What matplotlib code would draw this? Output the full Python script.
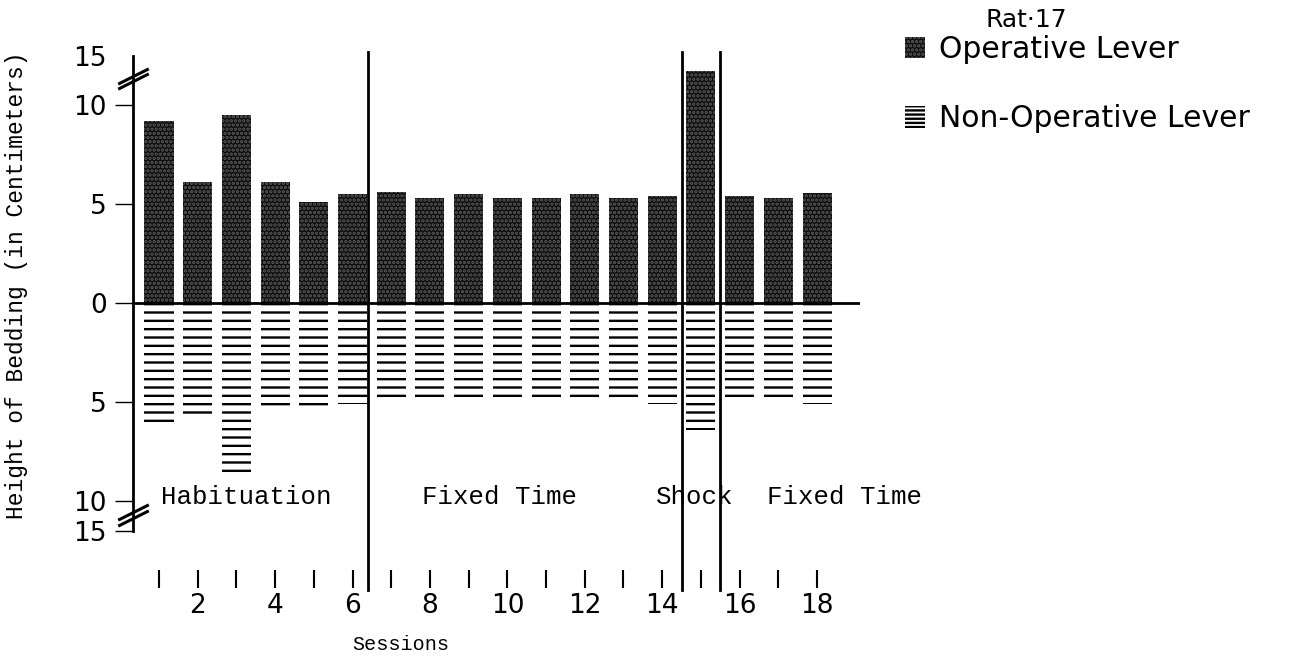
import numpy as np
import matplotlib
matplotlib.use("Agg")
import matplotlib.pyplot as plt
import matplotlib.transforms as mtransforms
from matplotlib.path import Path
from matplotlib.patches import Rectangle

# Bedding height per session (cm): operative lever above zero, non-operative below
sessions = list(range(1, 19))
operative = [9.2, 6.1, 9.5, 6.1, 5.1, 5.5, 5.6, 5.3, 5.5, 5.3, 5.3, 5.5, 5.3, 5.4, 13.5, 5.4, 5.3, 5.55]
non_operative = [6.1, 5.7, 8.8, 5.3, 5.3, 5.1, 5.0, 5.0, 5.0, 5.0, 5.0, 4.9, 4.9, 5.1, 6.4, 4.9, 4.8, 5.1]
y_ticks = [15, 10, 5, 0, -5, -10, -15]
phase_bounds = [6.4, 14.5, 15.5]
phase_names = ["Habituation", "Fixed Time", "Shock", "Fixed Time"]
phase_centers = [3.25, 9.8, 14.85, 18.7]

plt.rcParams["hatch.linewidth"] = 1.7
SANS = ["DejaVu Sans"]
MONO = ["Liberation Mono", "DejaVu Sans Mono"]

OP_STYLE = dict(facecolor="#0c0c0c", edgecolor="#5c5c5c", hatch="....", linewidth=0)
NOP_STYLE = dict(facecolor="white", edgecolor="black", hatch="--", linewidth=0)

# broken axis: values beyond +/-10 are compressed
KP, KN = 0.5, 0.3


def fwd(v):
    v = np.asarray(v, dtype=float)
    a = np.abs(v)
    k = np.where(v >= 0, KP, KN)
    return np.where(a <= 10, v, np.sign(v) * (10 + (a - 10) * k))


def inv(t):
    t = np.asarray(t, dtype=float)
    a = np.abs(t)
    k = np.where(t >= 0, KP, KN)
    return np.where(a <= 10, t, np.sign(t) * (10 + (a - 10) / k))


W, H = 1296, 661
fig = plt.figure(figsize=(W / 100, H / 100), dpi=100)
ax = fig.add_axes([133 / W, 0.1971, (860 - 133) / W, 0.7186])
ax.set_yscale("function", functions=(fwd, inv))
ax.set_ylim(-15, 15)
ax.set_xlim(0.328, 19.11)

x = np.array(sessions)
ax.bar(x, operative, width=0.75, zorder=2, **OP_STYLE)
ax.bar(x, -np.array(non_operative), width=0.75, zorder=2, **NOP_STYLE)

ax.axhline(0, color="black", lw=2.0, zorder=3)

for xb in phase_bounds:
    ax.axvline(xb, ymin=-0.125, ymax=1.008, color="black", lw=2.0,
               clip_on=False, zorder=4)

for name, xc in zip(phase_names, phase_centers):
    ax.text(xc, -9.8, name, ha="center", va="center", fontsize=18.5,
            family=MONO, color="black", zorder=5)

# spines and ticks
for s in ("top", "right"):
    ax.spines[s].set_visible(False)
ax.spines["left"].set_linewidth(2.0)
ax.spines["bottom"].set_visible(False)
ax.spines["bottom"].set_position(("outward", 28))

ax.set_yticks(y_ticks)
ax.set_yticklabels([str(abs(v)) for v in y_ticks], family=SANS, fontsize=19)
ax.tick_params(axis="y", direction="out", length=13, width=1.0, pad=6)
# the top end of the broken axis carries a label only
ax.yaxis.get_major_ticks()[0].tick1line.set_visible(False)

ax.set_xticks(sessions)
ax.set_xticklabels([str(s) if s % 2 == 0 else "" for s in sessions],
                   family=SANS, fontsize=19)
ax.tick_params(axis="x", direction="out", length=13, width=1.5, pad=4)

# break marks on the value axis: two parallel slanted strokes
slash = Path([(-1, -0.5), (1, 0.5)], [Path.MOVETO, Path.LINETO])
for yb in (13.0, -11.9):
    for dy in (0.0, -4.0):
        tr = ax.transData + mtransforms.ScaledTranslation(0, dy / 72, fig.dpi_scale_trans)
        ax.plot([0.328], [yb], marker=slash, markersize=22, mew=2.2,
                color="black", clip_on=False, transform=tr, zorder=6)

fig.text(17 / W, 0.569, "Height of Bedding (in Centimeters)", rotation=90,
         ha="center", va="center", fontsize=16.5, family=MONO)
fig.text(401 / W, 1 - 645 / H, "Sessions", ha="center", va="center",
         fontsize=14.5, family=MONO)

fig.text(985 / W, 1 - 20 / H, "Rat·17", ha="left", va="center",
         fontsize=18, family=SANS)
legend_handles = [
    Rectangle((0, 0), 1, 1, **OP_STYLE),
    Rectangle((0, 0), 1, 1, facecolor="white", edgecolor="black",
              hatch="----", linewidth=0),
]
fig.legend(handles=legend_handles, labels=["Operative Lever", "Non-Operative Lever"],
           loc="upper left", bbox_to_anchor=(905 / W, 1 - 35 / H), frameon=False,
           borderaxespad=0, borderpad=0, handlelength=0.68, handleheight=0.72,
           handletextpad=0.45, labelspacing=1.35,
           prop={"family": SANS, "size": 21.5})

fig.savefig("out.png", dpi=100)
